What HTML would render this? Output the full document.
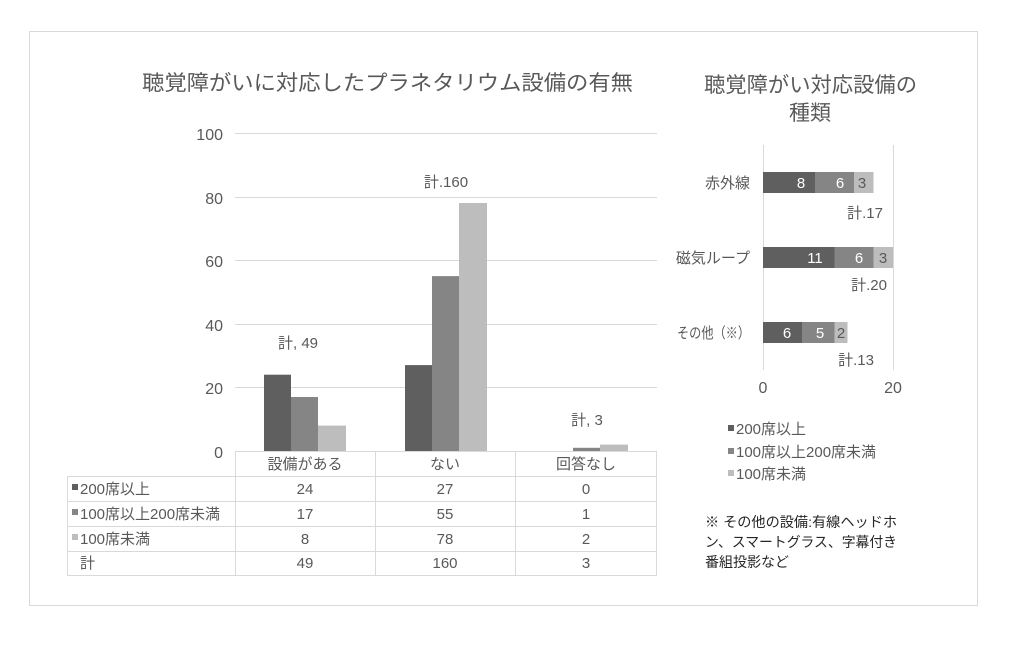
<!DOCTYPE html>
<html><head><meta charset="utf-8"><style>
html,body{margin:0;padding:0;background:#fff;}
svg{display:block;}
text{font-family:"Liberation Sans","Noto Sans CJK JP",sans-serif;fill:#595959;}
</style></head><body>
<svg width="1024" height="661" viewBox="0 0 1024 661" xmlns="http://www.w3.org/2000/svg">
<rect x="29.5" y="31.5" width="948" height="574" fill="#fff" stroke="#d9d9d9" stroke-width="1"/>
<text x="142" y="90" font-size="21" textLength="491" lengthAdjust="spacingAndGlyphs">聴覚障がいに対応したプラネタリウム設備の有無</text>
<g stroke="#d9d9d9" stroke-width="1">
<line x1="235" y1="133.5" x2="657" y2="133.5"/>
<line x1="235" y1="197.5" x2="657" y2="197.5"/>
<line x1="235" y1="260.5" x2="657" y2="260.5"/>
<line x1="235" y1="324.5" x2="657" y2="324.5"/>
<line x1="235" y1="387.5" x2="657" y2="387.5"/>
</g>
<g font-size="16" text-anchor="end">
<text x="223" y="140">100</text>
<text x="223" y="204">80</text>
<text x="223" y="267">60</text>
<text x="223" y="331">40</text>
<text x="223" y="394">20</text>
<text x="223" y="458">0</text>
</g>
<rect x="264" y="374.7" width="27" height="76.3" fill="#5f5f5f"/>
<rect x="291" y="397" width="27" height="54" fill="#858585"/>
<rect x="318" y="425.6" width="28" height="25.4" fill="#bdbdbd"/>
<rect x="405" y="365.1" width="27" height="85.9" fill="#5f5f5f"/>
<rect x="432" y="276.1" width="27" height="174.9" fill="#858585"/>
<rect x="459" y="203" width="28" height="248" fill="#bdbdbd"/>
<rect x="573" y="447.8" width="27" height="3.2" fill="#858585"/>
<rect x="600" y="444.6" width="28" height="6.4" fill="#bdbdbd"/>
<g font-size="15" text-anchor="middle">
<text x="298" y="348">計, 49</text>
<text x="446" y="187">計.160</text>
<text x="587" y="425">計, 3</text>
</g>
<g stroke="#d9d9d9" stroke-width="1" fill="none">
<line x1="235" y1="451.5" x2="657" y2="451.5"/>
<line x1="67" y1="476.5" x2="657" y2="476.5"/>
<line x1="67" y1="501.5" x2="657" y2="501.5"/>
<line x1="67" y1="526.5" x2="657" y2="526.5"/>
<line x1="67" y1="551.5" x2="657" y2="551.5"/>
<line x1="67" y1="575.5" x2="657" y2="575.5"/>
<line x1="67.5" y1="476" x2="67.5" y2="576"/>
<line x1="235.5" y1="451" x2="235.5" y2="576"/>
<line x1="375.5" y1="451" x2="375.5" y2="576"/>
<line x1="515.5" y1="451" x2="515.5" y2="576"/>
<line x1="656.5" y1="451" x2="656.5" y2="576"/>
</g>
<g font-size="15" text-anchor="middle">
<text x="305" y="469">設備がある</text><text x="445" y="469">ない</text><text x="586" y="469">回答なし</text>
<text x="305" y="494">24</text><text x="445" y="494">27</text><text x="586" y="494">0</text>
<text x="305" y="519">17</text><text x="445" y="519">55</text><text x="586" y="519">1</text>
<text x="305" y="544">8</text><text x="445" y="544">78</text><text x="586" y="544">2</text>
<text x="305" y="568">49</text><text x="445" y="568">160</text><text x="586" y="568">3</text>
</g>
<rect x="72" y="484" width="6" height="6" fill="#5f5f5f"/>
<rect x="72" y="509" width="6" height="6" fill="#858585"/>
<rect x="72" y="534" width="6" height="6" fill="#bdbdbd"/>
<g font-size="15">
<text x="80" y="494">200席以上</text>
<text x="80" y="519">100席以上200席未満</text>
<text x="80" y="544">100席未満</text>
<text x="80" y="568">計</text>
</g>
<text x="704" y="92" font-size="21" textLength="213" lengthAdjust="spacingAndGlyphs">聴覚障がい対応設備の</text>
<text x="810" y="120" font-size="21" text-anchor="middle">種類</text>
<g stroke="#d9d9d9" stroke-width="1">
<line x1="763.5" y1="145" x2="763.5" y2="370"/>
<line x1="893.5" y1="145" x2="893.5" y2="370"/>
</g>
<rect x="763" y="172" width="52" height="21" fill="#5f5f5f"/>
<rect x="815" y="172" width="39" height="21" fill="#858585"/>
<rect x="854" y="172" width="19.5" height="21" fill="#bdbdbd"/>
<rect x="763" y="247" width="71.5" height="21" fill="#5f5f5f"/>
<rect x="834.5" y="247" width="39" height="21" fill="#858585"/>
<rect x="873.5" y="247" width="19.5" height="21" fill="#bdbdbd"/>
<rect x="763" y="322" width="39" height="21" fill="#5f5f5f"/>
<rect x="802" y="322" width="32.5" height="21" fill="#858585"/>
<rect x="834.5" y="322" width="13" height="21" fill="#bdbdbd"/>
<g font-size="15" text-anchor="middle">
<text x="801" y="188" style="fill:#fff">8</text>
<text x="840" y="188" style="fill:#fff">6</text>
<text x="862" y="188" style="fill:#595959">3</text>
<text x="815" y="263" style="fill:#fff">11</text>
<text x="859" y="263" style="fill:#fff">6</text>
<text x="883" y="263" style="fill:#595959">3</text>
<text x="787" y="338" style="fill:#fff">6</text>
<text x="820" y="338" style="fill:#fff">5</text>
<text x="841" y="338" style="fill:#595959">2</text>
</g>
<g font-size="15" text-anchor="end">
<text x="750" y="188">赤外線</text>
<text x="750" y="263">磁気ループ</text>
</g>
<text x="677" y="338" font-size="15" textLength="73" lengthAdjust="spacingAndGlyphs">その他（※）</text>
<g font-size="15" text-anchor="middle">
<text x="865" y="218">計.17</text>
<text x="869" y="290">計.20</text>
<text x="856" y="365">計.13</text>
<text x="763" y="393" font-size="16">0</text>
<text x="893" y="393" font-size="16">20</text>
</g>
<rect x="728" y="425" width="6" height="6" fill="#5f5f5f"/>
<rect x="728" y="448" width="6" height="6" fill="#858585"/>
<rect x="728" y="470" width="6" height="6" fill="#bdbdbd"/>
<g font-size="15">
<text x="736" y="434">200席以上</text>
<text x="736" y="457">100席以上200席未満</text>
<text x="736" y="479">100席未満</text>
</g>
<g font-size="14">
<text x="705" y="527" style="fill:#262626" textLength="192" lengthAdjust="spacingAndGlyphs">※ その他の設備:有線ヘッドホ</text>
<text x="705" y="547" style="fill:#262626" textLength="192" lengthAdjust="spacingAndGlyphs">ン、スマートグラス、字幕付き</text>
<text x="705" y="567" style="fill:#262626">番組投影など</text>
</g>
</svg>
</body></html>
